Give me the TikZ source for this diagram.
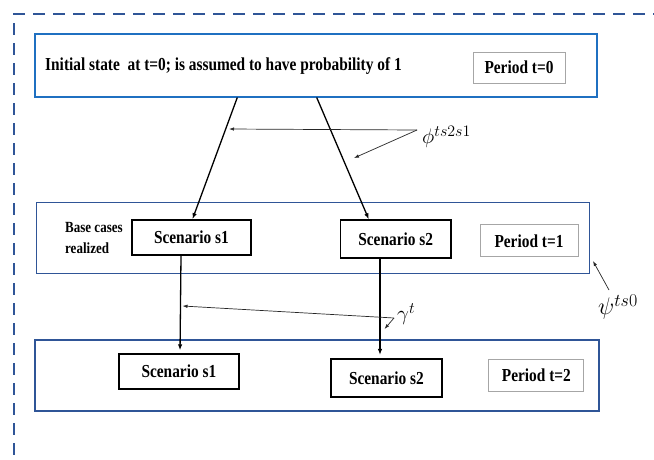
\documentclass[tikz,border=0pt]{standalone}
\usepackage{fix-cm}
\usepackage{fontspec}
\setmainfont{Liberation Serif}[FakeStretch=0.84]
\usetikzlibrary{arrows.meta,calc}
\DeclareMathSizes{21}{21}{16}{12}
\DeclareMathSizes{24}{24}{18}{14}
\definecolor{dashblue}{HTML}{2F5597}
\definecolor{topblue}{HTML}{1F70C1}
\definecolor{boxblue}{HTML}{2F5597}
\definecolor{pgray}{HTML}{A6A6A6}
\tikzset{
  frame/.style={dashblue, line width=2.4pt, dash pattern=on 12pt off 8pt},
  stage/.style={draw=boxblue, line width=1.4pt, inner sep=0pt},
  topstage/.style={draw=topblue, line width=2pt, inner sep=0pt},
  txt/.style={inner sep=0pt, font=\fontsize{18.3}{21}\selectfont\bfseries},
  scen/.style={draw=black, line width=1.8pt, inner sep=0pt, font=\fontsize{18.3}{21}\selectfont\bfseries},
  per/.style={draw=pgray, line width=0.9pt, inner sep=0pt, font=\fontsize{18.3}{21}\selectfont\bfseries},
  flow/.style={line width=1.3pt, -{Latex[length=6pt,width=4.5pt]}},
  ptr/.style={line width=0.7pt, black!85, -{Latex[length=5pt,width=3.5pt]}},
  mlbl/.style={inner sep=0pt, font=\fontsize{21}{23}\selectfont}
}
\begin{document}
\begin{tikzpicture}[x=1pt,y=-1pt]
\useasboundingbox (0,0) rectangle (654,459);
% dashed outer frame (open on right and bottom)
\draw[frame] (13,14) -- (654,14);
\draw[frame] (14,23) -- (14,459);

% stage boxes
\node[topstage, minimum width=562pt, minimum height=63pt] (stage0) at (315.7,65) {};
\node[stage, minimum width=553pt, minimum height=71pt] (stage1) at (313.2,237.8) {};
\node[stage, minimum width=564pt, minimum height=71pt] (stage2) at (316.8,375.5) {};

% texts of top stage
\node[txt, anchor=base west] (init) at (45,70) {Initial state\ \ at t=0; is assumed to have probability of 1};
\node[per, minimum width=92pt, minimum height=31pt] (p0) at (519,67.5) {Period t=0};

% middle stage
\node[inner sep=0pt, anchor=west, align=left, font=\fontsize{15.5}{20.5}\selectfont\bfseries] (base) at (65,238) {Base cases\\realized};
\node[scen, minimum width=119pt, minimum height=35pt] (s1a) at (191.4,237.5) {Scenario s1};
\node[scen, minimum width=110.6pt, minimum height=38pt] (s2a) at (395.7,239.2) {Scenario s2};
\node[per, minimum width=98pt, minimum height=32pt] (p1) at (529,240.8) {Period t=1};

% bottom stage
\node[scen, minimum width=120pt, minimum height=35pt] (s1b) at (178.9,371.7) {Scenario s1};
\node[scen, minimum width=110.7pt, minimum height=38pt] (s2b) at (386.4,378.3) {Scenario s2};
\node[per, minimum width=95pt, minimum height=32pt] (p2) at (536.4,375.2) {Period t=2};

% flow arrows
\draw[flow] (237.3,0 |- stage0.south) -- (192.5,0 |- s1a.north);
\draw[flow] (316.7,0 |- stage0.south) -- (368.8,0 |- s2a.north);
\draw[flow, shorten >=3pt] (181,0 |- s1a.south) -- (180,0 |- s1b.north);
\draw[flow, shorten >=3.5pt] (380,0 |- s2a.south) -- (380,0 |- s2b.north);

% labels
\node[mlbl, anchor=west] (phi) at (422,137) {$\phi^{ts2s1}$};
\node[mlbl, anchor=west] (gam) at (397,314) {$\gamma^{t}$};
\node[mlbl, anchor=west, font=\fontsize{24}{26}\selectfont] (psi) at (598,307) {$\psi^{ts0}$};

% pointer arrows
\coordinate (phitail) at (417,130);
\coordinate (phitipA) at (229,129);
\coordinate (phitipB) at (354,158);
\draw[ptr] (phitail) -- (phitipA);
\draw[ptr] (phitail) -- (phitipB);
\coordinate (gamtail) at (394,318);
\coordinate (gamtipA) at (182.5,306);
\coordinate (gamtipB) at (384.5,329);
\draw[ptr] (gamtail) -- (gamtipA);
\draw[ptr] (gamtail) -- (gamtipB);
\coordinate (psitail) at (609,290);
\coordinate (psitip) at (593,261);
\draw[ptr] (psitail) -- (psitip);
\end{tikzpicture}
\end{document}
